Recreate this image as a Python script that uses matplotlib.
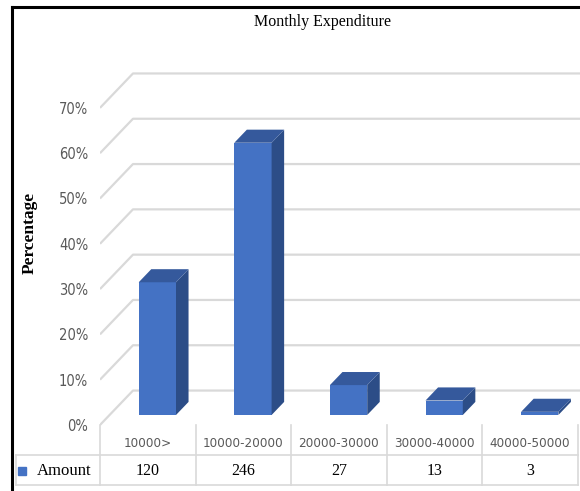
import numpy as np
import matplotlib
matplotlib.use("Agg")
import matplotlib.pyplot as plt
from matplotlib.lines import Line2D
from matplotlib import font_manager

# ______________________________________________________________________________
# Data

categories = ["10000>", "10000-20000", "20000-30000", "30000-40000", "40000-50000"]
amounts = [120, 246, 27, 13, 3]
percent = [29.3, 60.1, 6.6, 3.2, 0.7]
yticks = [0, 10, 20, 30, 40, 50, 60, 70]
series_name = "Amount"

# ______________________________________________________________________________
# Style

names = set(f.name for f in font_manager.fontManager.ttflist)
sans = [n for n in ["Liberation Sans Narrow", "DejaVu Sans"] if n in names]
serif = ["Liberation Serif", "DejaVu Serif"]
grey_txt = "#595959"
grid_col = "#d9d9d9"
c_front = "#4472c4"
c_side = "#2c4d87"
c_top = "#35599c"

# pseudo 3D: depth vector in data units (x in categories, y in %)
ddx, ddy = 0.345, 7.6
d0, d1 = 0.29, 0.67   # bar depth span
bw = 0.39             # bar width

fig = plt.figure(figsize=(5.8, 4.91), dpi=100)
ax = fig.add_axes([100 / 580, 5 / 491, 480 / 580, 426 / 491])
ax.set_xlim(-0.5, 4.521)
ax.set_ylim(-13.47, 80.57)
for s in ax.spines.values():
    s.set_visible(False)
ax.set_xticks([])
ax.set_yticks(yticks)
ax.set_yticklabels(["%d%%" % v for v in yticks], family=sans, fontstretch="condensed",
                   fontsize=10.5, color=grey_txt)
ax.tick_params(axis="y", length=0, pad=8.5)

x0 = -0.5
x1 = 4.521
# gridlines: left wall diagonal + back wall horizontal
for v in yticks:
    ax.plot([x0, x0 + ddx, x1], [v, v + ddy, v + ddy], color=grid_col, lw=1.6,
            zorder=1, solid_capstyle="butt")

# bars
for i, p in enumerate(percent):
    xl = i - bw / 2 + d0 * ddx
    xr = xl + bw
    yb = d0 * ddy
    yt = yb + p
    ex = (d1 - d0) * ddx
    ey = (d1 - d0) * ddy
    ax.fill([xl, xr, xr, xl], [yb, yb, yt, yt], color=c_front, zorder=3, lw=0)
    ax.fill([xr, xr + ex, xr + ex, xr], [yb, yb + ey, yt + ey, yt], color=c_side, zorder=3, lw=0)
    ax.fill([xl, xr, xr + ex, xl + ex], [yt, yt, yt + ey, yt + ey], color=c_top, zorder=4, lw=0)

# data table under the chart
row1 = -6.62
row2 = -13.25
xleft = -1.379
ax.plot([xleft, 4.5], [row1, row1], color=grid_col, lw=1.2, clip_on=False)
ax.plot([xleft, 4.5], [row2, row2], color=grid_col, lw=1.2, clip_on=False)
for k in range(6):
    ax.plot([x0 + k, x0 + k], [0, row2], color=grid_col, lw=1.2, clip_on=False)
ax.plot([xleft, xleft], [row1, row2], color=grid_col, lw=1.2, clip_on=False)

for i, (c, a) in enumerate(zip(categories, amounts)):
    ax.text(i, -4.1, c, ha="center", va="center", family=sans, fontstretch="condensed",
            fontsize=9.6, color=grey_txt)
    ax.text(i, -10.1, str(a), ha="center", va="center", family=serif, fontsize=11.5, color="black")

ax.plot([-1.316], [-10.1], marker="s", ms=5.5, color=c_front, clip_on=False, lw=0)
ax.text(-1.16, -10.1, series_name, ha="left", va="center", family=serif, fontsize=12, color="black")

# titles
fig.text(323 / 580, 1 - 22 / 491, "Monthly Expenditure", ha="center", va="center",
         family=serif, fontsize=11.5)
fig.text(30 / 580, 1 - 233 / 491, "Percentage", ha="center", va="center", rotation=90,
         family=serif, fontsize=12.5, fontweight="bold")

# black frame (left and top)
fig.add_artist(Line2D([12 / 580, 12 / 580], [0, 1 - 7 / 491], color="black", lw=2.2,
                      transform=fig.transFigure))
fig.add_artist(Line2D([12 / 580, 1], [1 - 7 / 491, 1 - 7 / 491], color="black", lw=2.2,
                      transform=fig.transFigure))

fig.savefig("out.png", dpi=100)
